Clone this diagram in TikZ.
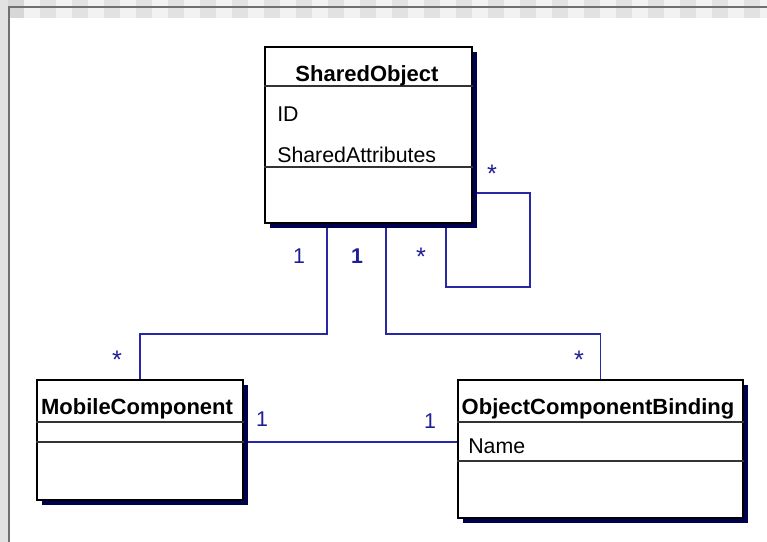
\documentclass[tikz,border=0pt]{standalone}
\usepackage{fontspec}
\setmainfont{Liberation Sans}
\usetikzlibrary{shadows}
\pgfdeclarelayer{bg}
\pgfsetlayers{bg,main}
\definecolor{linkblue}{RGB}{40,40,165}
\definecolor{labblue}{RGB}{30,30,150}
\definecolor{shadowc}{RGB}{0,0,80}
\definecolor{frameline}{RGB}{112,112,112}
\definecolor{checkA}{RGB}{226,226,226}
\definecolor{checkB}{RGB}{242,242,242}
\begin{document}
\begin{tikzpicture}[x=0.75pt,y=-0.75pt,
  classbox/.style={draw=black,line width=1.3pt,fill=white,inner sep=0pt,
    drop shadow={shadow xshift=3.75pt,shadow yshift=-3.75pt,opacity=1,fill=shadowc}},
  divider/.style={draw=black!80,line width=1pt},
  title/.style={font=\fontsize{16.5pt}{20pt}\selectfont\bfseries,inner sep=0pt,anchor=base},
  attr/.style={font=\fontsize{16pt}{20pt}\selectfont,inner sep=0pt,anchor=base west},
  mult/.style={font=\fontsize{16pt}{20pt}\selectfont,text=labblue,inner sep=0pt,anchor=base},
  star/.style={mult,font=\fontsize{19pt}{20pt}\selectfont},
  assoc/.style={draw=linkblue,line width=1pt}]
\useasboundingbox (0,0) rectangle (767,542);

\begin{pgfonlayer}{bg}
\fill[white] (0,0) rectangle (767,542);
% window frame: checkered strip on top, plain strip on the left
\fill[checkA] (0,0) rectangle (767,18);
\foreach \i in {0,2,...,46} {
  \fill[checkB] ({8+16*(\i+1)},0) rectangle ({8+16*(\i+2)},18);
}
\fill[checkA!95!black] (8,0) rectangle (24,18);
\fill[checkA] (0,0) rectangle (8,542);
\draw[frameline,line width=1.5pt] (8.5,542) -- (8.5,7) -- (767,7);
\end{pgfonlayer}

% classes
\node[classbox,minimum width=207*0.75pt,minimum height=176*0.75pt] (so) at (368.5,135) {};
\node[classbox,minimum width=206*0.75pt,minimum height=120*0.75pt] (mc) at (140,440) {};
\node[classbox,minimum width=285*0.75pt,minimum height=138*0.75pt] (ocb) at (600.5,449) {};

% compartments
\path (so.north west) ++(0,40) coordinate (sod1) ++(0,81) coordinate (sod2);
\draw[divider] (sod1) -- (sod1 -| so.east);
\draw[divider] (sod2) -- (sod2 -| so.east);
\path (mc.north west) ++(0,43) coordinate (mcd1) ++(0,20) coordinate (mcd2);
\draw[divider] (mcd1) -- (mcd1 -| mc.east);
\draw[divider] (mcd2) -- (mcd2 -| mc.east);
\path (ocb.north west) ++(0,43) coordinate (ocbd1) ++(0,39) coordinate (ocbd2);
\draw[divider] (ocbd1) -- (ocbd1 -| ocb.east);
\draw[divider] (ocbd2) -- (ocbd2 -| ocb.east);

% texts
\node[title] (soT) at (367,82) {SharedObject};
\node[attr] (soA1) at (277,122) {ID};
\node[attr] (soA2) at (277,162) {SharedAttributes};
\node[title] (mcT) at (137,414) {MobileComponent};
\node[title] (ocbT) at (598,414) {ObjectComponentBinding};
\node[attr] (ocbA1) at (468,453) {Name};

% associations, kept behind the class boxes and their shadows
\coordinate (j1) at (327,334);
\coordinate (j2) at (386,334);
\coordinate (j3) at (350,442);
\coordinate (l1) at (530,193);
\coordinate (l2) at (446,287);
\begin{pgfonlayer}{bg}
\draw[assoc] (so.south -| j1) -- (j1) -| (mc.north);
\draw[assoc] (so.south -| j2) -- (j2) -| (ocb.north);
\draw[assoc] (mc.east |- j3) -- (ocb.west |- j3);
\draw[assoc] (so.east |- l1) -- (l1) |- (l2) -- (so.south -| l2);
\end{pgfonlayer}

% multiplicities
\node[mult] (m1) at (299,263) {1};
\node[mult,font=\fontsize{16pt}{20pt}\selectfont\bfseries] (m2) at (357,263) {1};
\node[star] (m3) at (421,265) {*};
\node[star] (m4) at (492,182) {*};
\node[star] (m5) at (117,368) {*};
\node[star] (m6) at (579,368) {*};
\node[mult] (m7) at (262,426) {1};
\node[mult] (m8) at (430,428) {1};
\end{tikzpicture}
\end{document}
